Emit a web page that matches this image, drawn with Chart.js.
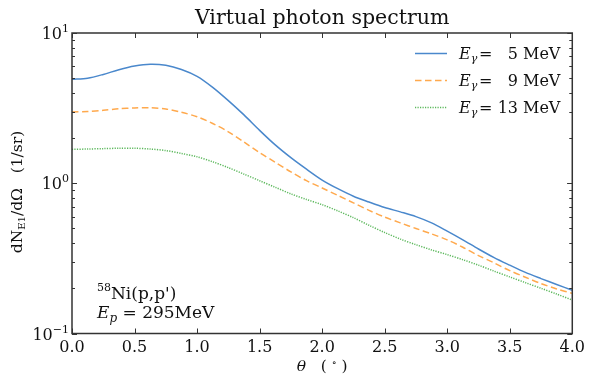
<!DOCTYPE html>
<html>
<head>
<meta charset="utf-8">
<script src="https://cdn.jsdelivr.net/npm/chart.js@4.4.1/dist/chart.umd.min.js"></script>
<style>
  html, body { margin: 0; padding: 0; background: #fff; }
  #wrap { width: 590px; height: 376px; position: relative; }
</style>
</head>
<body>
<div id="wrap"><canvas id="spectrum"></canvas></div>
<script>
// scattering angle (deg)
const theta = [0, 0.125, 0.25, 0.375, 0.5, 0.625, 0.75, 0.875, 1.0, 1.125, 1.25, 1.375, 1.5, 1.625, 1.75, 1.875,
               2.0, 2.125, 2.25, 2.375, 2.5, 2.625, 2.75, 2.875, 3.0, 3.125, 3.25, 3.375, 3.5, 3.625, 3.75, 3.875, 4.0];
// dN_E1/dOmega (1/sr)
const spec5  = [4.92, 5.0, 5.3, 5.7, 6.03, 6.2, 6.1, 5.72, 5.15, 4.35, 3.55, 2.85, 2.25, 1.8, 1.48, 1.24,
                1.05, 0.92, 0.82, 0.75, 0.69, 0.645, 0.6, 0.545, 0.48, 0.42, 0.365, 0.32, 0.285, 0.255, 0.232, 0.212, 0.194];
const spec9  = [2.98, 3.0, 3.06, 3.13, 3.17, 3.18, 3.12, 2.97, 2.77, 2.5, 2.2, 1.88, 1.6, 1.38, 1.19, 1.04,
                0.93, 0.83, 0.74, 0.66, 0.595, 0.545, 0.5, 0.46, 0.42, 0.375, 0.33, 0.295, 0.262, 0.237, 0.215, 0.198, 0.185];
const spec13 = [1.68, 1.69, 1.7, 1.71, 1.71, 1.69, 1.65, 1.58, 1.5, 1.39, 1.27, 1.15, 1.04, 0.94, 0.85, 0.78,
                0.72, 0.655, 0.59, 0.525, 0.47, 0.425, 0.39, 0.36, 0.335, 0.31, 0.285, 0.26, 0.238, 0.218, 0.2, 0.183, 0.167];
const energies = [5, 9, 13];
const xTicks = [0, 0.5, 1, 1.5, 2, 2.5, 3, 3.5, 4];
const yDecades = [0.1, 1, 10];
const yExponents = ['\u22121', '0', '1'];

const colors = ['#4a88cc', '#ffa94d', '#5cb85c'];
const dashes = [[], [6.5, 3.5], [1.2, 1.3]];
const SERIF = '"DejaVu Serif", serif';

function pts(ys) {
    return theta.map((t, i) => ({ x: t, y: ys[i] }));
}

// text made of pieces (sub/superscripts, italics), returns width
function drawRich(ctx, parts, x, y, measureOnly) {
    let cx = x;
    parts.forEach(p => {
        ctx.font = (p.italic ? 'italic ' : '') + p.size + 'px ' + SERIF;
        if (!measureOnly) ctx.fillText(p.t, cx, y + (p.dy || 0));
        cx += ctx.measureText(p.t).width;
    });
    return cx - x;
}

const decor = {
    id: 'decor',
    afterDraw(chart) {
        const { ctx, chartArea: a, scales: { x, y } } = chart;
        ctx.save();

        // frame
        ctx.strokeStyle = '#333';
        ctx.lineWidth = 1.5;
        ctx.strokeRect(a.left, a.top, a.right - a.left, a.bottom - a.top);

        // inward ticks
        ctx.lineWidth = 1;
        ctx.beginPath();
        xTicks.forEach(v => {
            const px = Math.round(x.getPixelForValue(v)) + 0.5;
            ctx.moveTo(px, a.bottom); ctx.lineTo(px, a.bottom - 5);
            ctx.moveTo(px, a.top); ctx.lineTo(px, a.top + 5);
        });
        [0.1, 1].forEach(d => {
            for (let m = 1; m <= 10; m++) {
                const py = Math.round(y.getPixelForValue(d * m)) + 0.5;
                const len = (m === 1 || m === 10) ? 5 : 3;
                ctx.moveTo(a.left, py); ctx.lineTo(a.left + len, py);
                ctx.moveTo(a.right, py); ctx.lineTo(a.right - len, py);
            }
        });
        ctx.stroke();

        ctx.fillStyle = '#111';
        ctx.textBaseline = 'alphabetic';
        ctx.textAlign = 'left';

        // y tick labels 10^n
        yDecades.forEach((v, i) => {
            const py = y.getPixelForValue(v);
            const parts = [{ t: '10', size: 16 }, { t: yExponents[i], size: 11, dy: -7 }];
            const w = drawRich(ctx, parts, 0, 0, true);
            drawRich(ctx, parts, a.left - 3 - w, py + 6);
        });

        // title
        ctx.font = '20.5px ' + SERIF;
        ctx.textAlign = 'center';
        ctx.fillText('Virtual photon spectrum', (a.left + a.right) / 2, 24);
        ctx.textAlign = 'left';

        // x axis title
        const xt = [{ t: '\u03b8', size: 15.5, italic: true }, { t: '   ( ', size: 15.5 }, { t: '\u2218', size: 10, dy: -5 }, { t: ' )', size: 15.5 }];
        const xw = drawRich(ctx, xt, 0, 0, true);
        drawRich(ctx, xt, (a.left + a.right) / 2 - xw / 2, 371);

        // y axis title (rotated)
        ctx.save();
        ctx.translate(22, 192);
        ctx.rotate(-Math.PI / 2);
        const yt = [{ t: 'dN', size: 15.5 }, { t: 'E1', size: 10, dy: 3 }, { t: '/d\u03a9', size: 15.5 }, { t: '   (1/sr)', size: 15.5 }];
        const yw = drawRich(ctx, yt, 0, 0, true);
        drawRich(ctx, yt, -yw / 2, 0);
        ctx.restore();

        // legend
        const rows = [53.5, 80.5, 107.5];
        energies.forEach((e, i) => {
            const ly = rows[i];
            ctx.strokeStyle = colors[i];
            ctx.lineWidth = 1.5;
            ctx.setLineDash(dashes[i]);
            ctx.beginPath();
            ctx.moveTo(415, ly); ctx.lineTo(447, ly);
            ctx.stroke();
            ctx.setLineDash([]);
            drawRich(ctx, [{ t: 'E', size: 16, italic: true }, { t: '\u03b3', size: 11, italic: true, dy: 3 }], 459, ly + 5.5);
            ctx.font = '16px ' + SERIF;
            ctx.fillText('=', 479, ly + 5.5);
            ctx.textAlign = 'right';
            ctx.fillText(String(e), 518, ly + 5.5);
            ctx.textAlign = 'left';
            ctx.fillText('MeV', 523, ly + 5.5);
        });

        // reaction label
        drawRich(ctx, [{ t: '58', size: 11, dy: -8 }, { t: 'Ni(p,p\')', size: 17 }], 97, 299);
        drawRich(ctx, [{ t: 'E', size: 17, italic: true }, { t: 'p', size: 12, italic: true, dy: 4 }, { t: ' = 295MeV', size: 17 }], 97, 318);

        ctx.restore();
    }
};

const datasets = [spec5, spec9, spec13].map((s, i) => ({
    label: 'E = ' + energies[i] + ' MeV',
    data: pts(s),
    borderColor: colors[i],
    borderWidth: 1.5,
    borderDash: dashes[i],
    pointRadius: 0,
    fill: false,
    tension: 0.3
}));

new Chart(document.getElementById('spectrum').getContext('2d'), {
    type: 'line',
    data: { datasets },
    options: {
        responsive: true,
        maintainAspectRatio: false,
        animation: false,
        layout: { padding: { top: 33, right: 16, left: 0, bottom: 0 } },
        scales: {
            x: {
                type: 'linear',
                min: 0,
                max: 4,
                grid: { display: false, drawTicks: false },
                border: { display: false },
                afterBuildTicks: s => { s.ticks = xTicks.map(v => ({ value: v })); },
                ticks: {
                    color: '#111',
                    padding: 5,
                    maxRotation: 0,
                    font: { family: SERIF, size: 16 },
                    callback: v => Number(v).toFixed(1)
                },
                afterFit: s => { s.height = 42.5; }
            },
            y: {
                type: 'logarithmic',
                min: 0.1,
                max: 10,
                grid: { display: false, drawTicks: false },
                border: { display: false },
                ticks: { display: false },
                afterBuildTicks: s => { s.ticks = yDecades.map(v => ({ value: v })); },
                afterFit: s => { s.width = 72; }
            }
        },
        plugins: {
            legend: { display: false },
            tooltip: { enabled: false }
        }
    },
    plugins: [decor]
});
</script>
</body>
</html>
